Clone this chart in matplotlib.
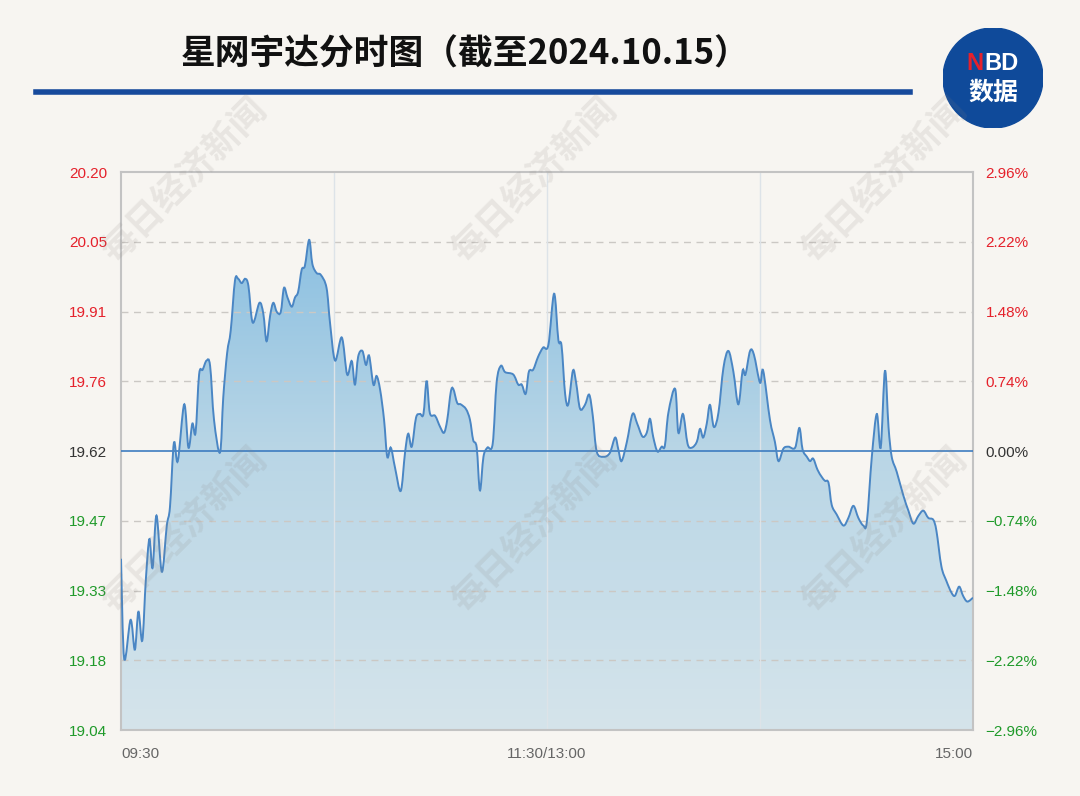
import numpy as np
import matplotlib
matplotlib.use('Agg')
from matplotlib import pyplot as plt
from matplotlib.colors import LinearSegmentedColormap
from matplotlib.patches import Circle, PathPatch
from matplotlib.path import Path

plt.rcParams['font.family'] = ['Noto Sans CJK SC', 'DejaVu Sans']

# data: minutes after 09:30 (lunch break removed) and price
minutes = [0, 0.9, 2.7, 3.9, 4.9, 6.0, 7.0, 8.0, 8.9, 10.0, 11.5, 12.9, 13.8, 14.9, 16.0,
           17.8, 19.0, 20.1, 21.0, 22.0, 23.0, 24.1, 25.1, 26.2, 27.9, 28.8, 29.9, 30.9,
           32.1, 33.0, 34.0, 35.0, 35.9, 37.1, 39.0, 40.1, 41.0, 42.0, 42.9, 43.9, 45.0,
           45.9, 46.9, 48.1, 49.0, 49.9, 50.9, 51.8, 53.0, 53.9, 55.1, 56.3, 57.9, 58.9,
           60.3, 62.2, 63.7, 65.0, 65.9, 66.8, 68.0, 69.0, 69.9, 71.1, 72.0, 73.0, 74.1,
           75.0, 76.0, 77.2, 78.8, 80.0, 80.9, 81.9, 83.1, 84.2, 85.2, 86.1, 87.0, 88.5,
           89.9, 91.0, 91.9, 92.9, 93.6, 94.7, 95.7, 97.2, 98.3, 99.2, 100.2, 101.1, 102.1,
           103.2, 104.7, 105.8, 107.0, 108.2, 110.5, 111.9, 112.9, 114.0, 114.9, 116.1,
           117.5, 118.9, 120.4, 122.0, 123.2, 124.1, 125.1, 126.0, 127.3, 128.2, 129.3,
           130.7, 131.9, 132.9, 134.0, 135.9, 137.7, 139.2, 140.1, 141.0, 142.5, 144.1,
           145.4, 146.9, 148.1, 149.0, 149.9, 151.1, 152.3, 153.2, 154.2, 156.1, 157.0,
           158.3, 159.6, 160.8, 162.2, 163.1, 164.0, 165.0, 165.9, 167.0, 168.3, 169.7,
           171.1, 172.5, 173.9, 175.1, 175.9, 177.2, 178.3, 180.0, 180.9, 182.8, 184.2,
           185.2, 186.6, 188.0, 189.9, 191.1, 192.0, 193.2, 194.1, 195.0, 196.2, 197.4,
           198.3, 199.3, 200.2, 201.6, 203.5, 204.9, 206.3, 207.7, 209.1, 210.1, 211.5,
           212.9, 214.0, 215.2, 216.2, 217.1, 218.5, 220.4, 221.8, 223.2, 224.6, 226.0,
           227.4, 228.8, 229.7, 231.1, 232.5, 233.9, 234.9, 236.1, 237.2, 238.4, 240.0]
prices = [19.396, 19.188, 19.269, 19.207, 19.286, 19.226, 19.353, 19.437, 19.377, 19.486,
          19.369, 19.465, 19.504, 19.637, 19.599, 19.717, 19.627, 19.677, 19.658, 19.779,
          19.789, 19.808, 19.797, 19.685, 19.617, 19.731, 19.824, 19.870, 19.974, 19.978,
          19.969, 19.978, 19.963, 19.887, 19.928, 19.905, 19.848, 19.901, 19.928, 19.909,
          19.909, 19.959, 19.939, 19.920, 19.939, 19.951, 19.997, 20.005, 20.059, 20.009,
          19.990, 19.986, 19.959, 19.885, 19.808, 19.856, 19.779, 19.807, 19.758, 19.816,
          19.828, 19.799, 19.818, 19.758, 19.776, 19.747, 19.685, 19.608, 19.627, 19.585,
          19.537, 19.616, 19.656, 19.629, 19.689, 19.697, 19.697, 19.766, 19.699, 19.693,
          19.670, 19.658, 19.685, 19.743, 19.749, 19.720, 19.717, 19.707, 19.685, 19.643,
          19.627, 19.538, 19.608, 19.627, 19.635, 19.762, 19.797, 19.784, 19.779, 19.758,
          19.758, 19.739, 19.785, 19.789, 19.816, 19.835, 19.841, 19.947, 19.851, 19.839,
          19.739, 19.717, 19.787, 19.762, 19.708, 19.716, 19.737, 19.693, 19.619, 19.608,
          19.616, 19.648, 19.623, 19.599, 19.639, 19.697, 19.677, 19.650, 19.658, 19.687,
          19.650, 19.619, 19.629, 19.631, 19.700, 19.749, 19.658, 19.697, 19.635, 19.627,
          19.639, 19.666, 19.648, 19.677, 19.716, 19.670, 19.700, 19.793, 19.828, 19.785,
          19.717, 19.787, 19.779, 19.828, 19.820, 19.762, 19.787, 19.685, 19.639, 19.599,
          19.625, 19.629, 19.627, 19.668, 19.623, 19.608, 19.599, 19.604, 19.581, 19.566,
          19.558, 19.554, 19.508, 19.488, 19.465, 19.481, 19.506, 19.481, 19.465, 19.473,
          19.608, 19.697, 19.627, 19.787, 19.670, 19.608, 19.577, 19.527, 19.496, 19.469,
          19.485, 19.496, 19.481, 19.477, 19.454, 19.380, 19.350, 19.326, 19.319, 19.338,
          19.319, 19.307, 19.315]

prev_close = 19.62
ymin, ymax = 19.04, 20.20
left_labels = ['19.04', '19.18', '19.33', '19.47', '19.62', '19.76', '19.91', '20.05', '20.20']
right_labels = ['\u22122.96%', '\u22122.22%', '\u22121.48%', '\u22120.74%', '0.00%',
                '0.74%', '1.48%', '2.22%', '2.96%']
x_labels = ['09:30', '11:30/13:00', '15:00']
title = '星网宇达分时图（截至2024.10.15）'

bg = '#f7f5f1'
red = '#e5212b'
green = '#1f9a2a'
line_blue = '#4a86c4'


def smooth_path(xs, ys):
    # catmull-rom through the points, drawn as cubic bezier segments
    p = np.column_stack([xs, ys])
    verts = [p[0]]
    codes = [Path.MOVETO]
    for i in range(len(p) - 1):
        p0 = p[i - 1] if i > 0 else p[i]
        p3 = p[i + 2] if i + 2 < len(p) else p[i + 1]
        c1 = p[i] + (p[i + 1] - p0) / 6
        c2 = p[i + 1] - (p3 - p[i]) / 6
        verts += [c1, c2, p[i + 1]]
        codes += [Path.CURVE4] * 3
    return np.array(verts), codes


fig = plt.figure(figsize=(10.8, 7.96), dpi=100)
fig.patch.set_facecolor(bg)

ax = fig.add_axes([121 / 1080, 1 - 730 / 796, 852 / 1080, 558 / 796])
ax.set_facecolor(bg)
ax.set_xlim(0, 240)
ax.set_ylim(ymin, ymax)

verts, codes = smooth_path(minutes, prices)
line_path = Path(verts, codes)
fill_verts = np.vstack([verts, [[minutes[-1], ymin], [minutes[0], ymin], verts[0]]])
fill_codes = codes + [Path.LINETO, Path.LINETO, Path.CLOSEPOLY]
fill_path = Path(fill_verts, fill_codes)

# gradient fill under the line
cmap = LinearSegmentedColormap.from_list('fill', ['#d5e4eb', '#b9d6e6', '#7db9e0'])
grad = np.linspace(0, 1, 256).reshape(-1, 1)
im = ax.imshow(grad, cmap=cmap, aspect='auto', origin='lower',
               extent=[0, 240, ymin, ymax], zorder=1)
im.set_clip_path(fill_path, transform=ax.transData)

ticks = np.linspace(ymin, ymax, len(left_labels))
mid = len(ticks) // 2

# grid
for i, v in enumerate(ticks):
    if i in (0, len(ticks) - 1, mid):
        continue
    ax.axhline(v, color='#cbc8c4', lw=1, ls=(0, (5, 4)), zorder=2)
for m in [60, 120, 180]:
    ax.axvline(m, color='#dde3e8', lw=1, zorder=2)

ax.add_patch(PathPatch(line_path, facecolor='none', edgecolor=line_blue, lw=1.4, zorder=4))
ax.axhline(prev_close, color='#3d7cc0', lw=1.2, zorder=3)

for s in ax.spines.values():
    s.set_color('#c3c3c3')
    s.set_linewidth(1.5)


def tick_color(i):
    if i > mid:
        return red
    if i < mid:
        return green
    return '#333333'


ax.set_xticks([])
ax.set_yticks(ticks)
ax.set_yticklabels(left_labels, fontsize=11, family='Liberation Sans')
ax.tick_params(axis='y', length=0, pad=10)
for i, lab in enumerate(ax.get_yticklabels()):
    lab.set_color(tick_color(i))

ax2 = ax.twinx()
ax2.set_ylim(ymin, ymax)
ax2.set_yticks(ticks)
ax2.set_yticklabels(right_labels, fontsize=11, family='Liberation Sans')
ax2.tick_params(axis='y', length=0, pad=9)
for i, lab in enumerate(ax2.get_yticklabels()):
    lab.set_color(tick_color(i))
for s in ax2.spines.values():
    s.set_visible(False)

ax.text(0, -0.03, x_labels[0], transform=ax.transAxes, ha='left', va='top',
        fontsize=11, color='#666666', family='Liberation Sans')
ax.text(0.5, -0.03, x_labels[1], transform=ax.transAxes, ha='center', va='top',
        fontsize=11, color='#666666', family='Liberation Sans')
ax.text(1, -0.03, x_labels[2], transform=ax.transAxes, ha='right', va='top',
        fontsize=11, color='#666666', family='Liberation Sans')

# watermarks
for wx in [185, 535, 885]:
    for wy in [180, 530]:
        fig.text(wx / 1080, 1 - wy / 796, '每日经济新闻', rotation=45, ha='center',
                 va='center', fontsize=26, fontweight='bold', color='#8a8480',
                 alpha=0.14, zorder=10)

# title
fig.text(465 / 1080, 1 - 54 / 796, title, ha='center', va='center', fontsize=25,
         fontweight='bold', color='#111111')
fig.add_artist(plt.Line2D([36 / 1080, 910 / 1080], [1 - 92 / 796, 1 - 92 / 796],
                          color='#174a9c', lw=4))

# NBD badge
lax = fig.add_axes([943 / 1080, 1 - 128 / 796, 100 / 1080, 100 / 796])
lax.set_xlim(-1, 1)
lax.set_ylim(-1, 1)
lax.set_aspect('equal')
lax.axis('off')
lax.add_patch(Circle((0, 0), 1, color='#0f4a9a'))
lax.text(-0.36, 0.3, 'N', color='#e5212b', fontsize=17, fontweight='bold',
         ha='center', va='center', family='Liberation Sans')
lax.text(0.16, 0.3, 'BD', color='white', fontsize=17, fontweight='bold',
         ha='center', va='center', family='Liberation Sans')
lax.text(0, -0.3, '数据', color='white', fontsize=18, fontweight='bold',
         ha='center', va='center')

fig.savefig('out.png', dpi=100, facecolor=bg)
